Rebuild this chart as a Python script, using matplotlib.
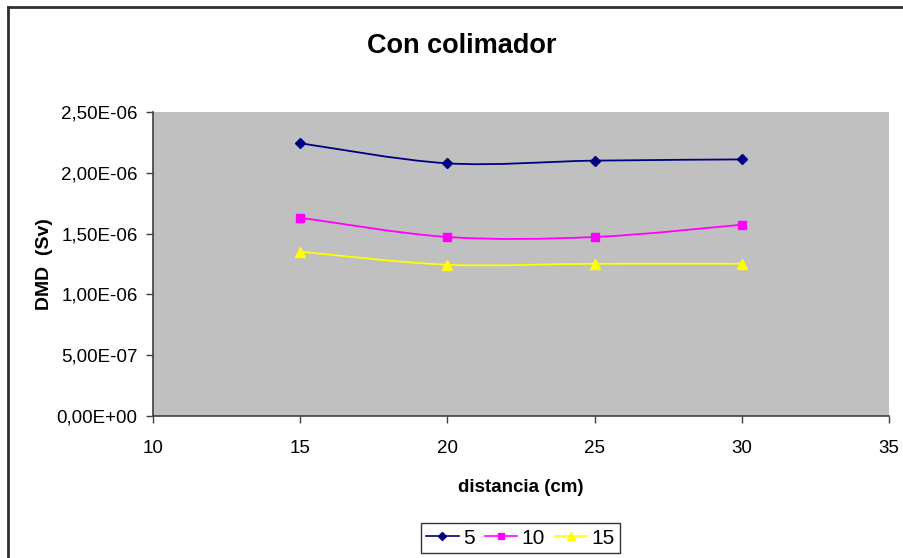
import matplotlib
matplotlib.use("Agg")
import matplotlib.pyplot as plt
from matplotlib.path import Path
from matplotlib.patches import PathPatch
from matplotlib.lines import Line2D
import numpy as np

plt.rcParams['font.family'] = ['Liberation Sans', 'DejaVu Sans']

# data
distancia = [15, 20, 25, 30]
serie_5 = [2.243e-06, 2.078e-06, 2.100e-06, 2.110e-06]
serie_10 = [1.631e-06, 1.472e-06, 1.472e-06, 1.573e-06]
serie_15 = [1.351e-06, 1.244e-06, 1.252e-06, 1.252e-06]
series_labels = ['5', '10', '15']
x_ticks = [10, 15, 20, 25, 30, 35]
y_ticks = [0, 5e-07, 1e-06, 1.5e-06, 2e-06, 2.5e-06]
y_tick_labels = ['0,00E+00', '5,00E-07', '1,00E-06', '1,50E-06', '2,00E-06', '2,50E-06']

colors = ['#000080', '#FF00FF', '#FFFF00']
markers = ['D', 's', '^']
msizes = [5, 6, 7]


def smooth_path(xs, ys):
    # Excel-style smoothed line: cubic bezier through every point
    pts = np.column_stack([xs, ys]).astype(float)
    n = len(pts)
    verts = [pts[0]]
    codes = [Path.MOVETO]
    for i in range(n - 1):
        p0 = pts[i - 1] if i > 0 else pts[i]
        p1 = pts[i]
        p2 = pts[i + 1]
        p3 = pts[i + 2] if i + 2 < n else pts[i + 1]
        c1 = p1 + (p2 - p0) / 6.0
        c2 = p2 - (p3 - p1) / 6.0
        verts += [c1, c2, p2]
        codes += [Path.CURVE4] * 3
    return Path(verts, codes)


fig = plt.figure(figsize=(9.04, 5.58), dpi=100)
ax = fig.add_axes([0.1692, 0.2545, 0.8142, 0.5448])
ax.set_facecolor('#C0C0C0')

for ys, c, m, ms in zip([serie_5, serie_10, serie_15], colors, markers, msizes):
    ax.add_patch(PathPatch(smooth_path(distancia, ys), facecolor='none',
                           edgecolor=c, linewidth=1.3, zorder=2))
    ax.plot(distancia, ys, linestyle='none', marker=m, markersize=ms,
            color=c, markeredgecolor=c, zorder=3)

ax.set_xlim(10, 35)
ax.set_ylim(0, 2.5e-06)
ax.set_xticks(x_ticks)
ax.set_yticks(y_ticks)
ax.set_yticklabels(y_tick_labels)
ax.tick_params(axis='both', labelsize=13.5, direction='out', length=5,
               color='#404040', width=1)
ax.tick_params(axis='x', pad=12)
ax.tick_params(axis='y', pad=6)
for s in ['top', 'right']:
    ax.spines[s].set_visible(False)
for s in ['left', 'bottom']:
    ax.spines[s].set_color('#404040')
    ax.spines[s].set_linewidth(1.2)

ax.set_xlabel('distancia (cm)', fontsize=13.5, fontweight='bold', labelpad=16)
ax.set_ylabel('DMD  (Sv)', fontsize=14, fontweight='bold', labelpad=3)
fig.text(0.511, 0.917, 'Con colimador', ha='center', va='center',
         fontsize=19.5, fontweight='bold')

handles = [Line2D([0], [0], color=c, marker=m, markersize=ms - 1, linewidth=1.2)
           for c, m, ms in zip(colors, markers, msizes)]
leg = fig.legend(handles, series_labels, loc='center', ncol=3,
                 bbox_to_anchor=(0.5758, 0.0358), fontsize=15, frameon=True,
                 fancybox=False, handlelength=1.55, handletextpad=0.2,
                 columnspacing=0.5, borderpad=0.25, borderaxespad=0,
                 edgecolor='black')
leg.get_frame().set_linewidth(1.0)

# outer chart border (cropped at right/bottom in the reference)
fig.add_artist(Line2D([8 / 904, 1.0], [1 - 7 / 558, 1 - 7 / 558],
                      color='#303030', linewidth=2, transform=fig.transFigure))
fig.add_artist(Line2D([8 / 904, 8 / 904], [0.0, 1 - 7 / 558],
                      color='#303030', linewidth=2, transform=fig.transFigure))

fig.savefig('out.png', dpi=100)
